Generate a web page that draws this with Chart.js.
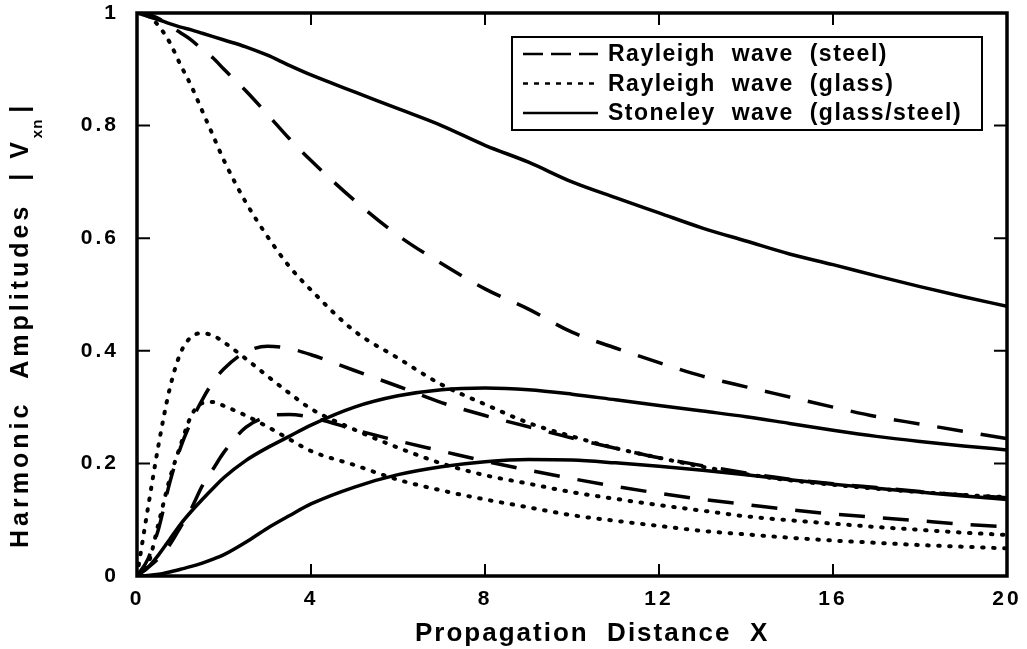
<!DOCTYPE html>
<html>
<head>
<meta charset="utf-8">
<script src="https://cdn.jsdelivr.net/npm/chart.js@4"></script>
<style>
  html, body { margin: 0; padding: 0; background: #fff; }
  #wrap { width: 1027px; height: 649px; }
</style>
</head>
<body>
<div id="wrap"><canvas id="chart" width="1027" height="649"></canvas></div>
<script>
// propagation distance X (shared by every curve)
const distance = [0, 0.25, 0.5, 0.75, 1, 1.25, 1.5, 1.75, 2, 2.5, 3, 3.5, 4,
    5, 6, 7, 8, 9, 10, 11, 12, 13, 14, 15, 16, 17, 18, 19, 20];

// Rayleigh wave (steel) - fundamental, 2nd and 3rd harmonic
const steelFund = [1, 0.998, 0.99, 0.977, 0.965, 0.952, 0.935, 0.92, 0.9, 0.862, 0.82, 0.777, 0.738,
    0.667, 0.605, 0.555, 0.51, 0.474, 0.433, 0.405, 0.379, 0.355, 0.336, 0.318, 0.3, 0.283, 0.27, 0.257, 0.244];
const steel2nd = [0, 0.03, 0.085, 0.165, 0.228, 0.275, 0.313, 0.345, 0.368, 0.398, 0.408, 0.404, 0.393,
    0.365, 0.337, 0.308, 0.285, 0.265, 0.245, 0.227, 0.21, 0.196, 0.183, 0.172, 0.164, 0.157, 0.15, 0.144, 0.139];
const steel3rd = [0, 0.015, 0.032, 0.055, 0.087, 0.12, 0.16, 0.19, 0.22, 0.264, 0.283, 0.287, 0.282,
    0.26, 0.24, 0.222, 0.204, 0.188, 0.173, 0.159, 0.147, 0.136, 0.127, 0.118, 0.11, 0.104, 0.098, 0.092, 0.087];

// Rayleigh wave (glass)
const glassFund = [1, 0.995, 0.977, 0.948, 0.908, 0.87, 0.826, 0.782, 0.738, 0.664, 0.603, 0.55, 0.508,
    0.435, 0.387, 0.34, 0.305, 0.272, 0.248, 0.227, 0.21, 0.194, 0.181, 0.17, 0.162, 0.155, 0.149, 0.144, 0.14];
const glass2nd = [0, 0.12, 0.235, 0.332, 0.396, 0.425, 0.431, 0.427, 0.415, 0.386, 0.355, 0.325, 0.297,
    0.26, 0.228, 0.2, 0.179, 0.164, 0.149, 0.137, 0.126, 0.116, 0.106, 0.099, 0.093, 0.087, 0.082, 0.077, 0.073];
const glass3rd = [0, 0.02, 0.095, 0.172, 0.232, 0.285, 0.307, 0.309, 0.302, 0.285, 0.265, 0.243, 0.222,
    0.197, 0.171, 0.152, 0.136, 0.122, 0.108, 0.098, 0.089, 0.08, 0.074, 0.068, 0.063, 0.059, 0.055, 0.052, 0.049];

// Stoneley wave (glass/steel)
const stoneFund = [1, 0.994, 0.988, 0.981, 0.975, 0.97, 0.964, 0.958, 0.952, 0.94, 0.925, 0.907, 0.89,
    0.86, 0.83, 0.8, 0.765, 0.735, 0.7, 0.672, 0.645, 0.618, 0.595, 0.572, 0.553, 0.533, 0.514, 0.496, 0.479];
const stone2nd = [0, 0.015, 0.038, 0.065, 0.092, 0.115, 0.136, 0.156, 0.175, 0.205, 0.228, 0.248, 0.268,
    0.3, 0.32, 0.331, 0.334, 0.331, 0.323, 0.313, 0.303, 0.293, 0.283, 0.271, 0.259, 0.248, 0.239, 0.231, 0.224];
const stone3rd = [0, 0.001, 0.003, 0.007, 0.012, 0.017, 0.023, 0.03, 0.038, 0.06, 0.085, 0.107, 0.128,
    0.158, 0.18, 0.194, 0.203, 0.207, 0.206, 0.201, 0.195, 0.188, 0.18, 0.171, 0.163, 0.156, 0.149, 0.142, 0.136];

const xTicks = [0, 4, 8, 12, 16, 20];
const yTicks = [0, 0.2, 0.4, 0.6, 0.8, 1];
const legendLabels = ['Rayleigh  wave  (steel)', 'Rayleigh  wave  (glass)', 'Stoneley  wave  (glass/steel)'];

const styles = {
    steel: { dash: [26, 18], cap: 'butt', width: 3.5 },
    glass: { dash: [1.5, 9.5], cap: 'round', width: 4 },
    stone: { dash: [], cap: 'butt', width: 3.5 }
};

function curve(values, kind) {
    return {
        data: distance.map((x, i) => ({ x: x, y: values[i] })),
        borderColor: '#000',
        borderWidth: styles[kind].width,
        borderDash: styles[kind].dash,
        borderCapStyle: styles[kind].cap,
        pointRadius: 0,
        fill: false,
        cubicInterpolationMode: 'monotone'
    };
}

const FONT = '"Liberation Sans", Arial, Helvetica, sans-serif';

// frame, inward ticks, legend and axis titles
const framePlugin = {
    id: 'frame',
    beforeDraw(chart) {
        chart.ctx.letterSpacing = '3px';
    },
    afterDatasetsDraw(chart) {
        const ctx = chart.ctx;
        const a = chart.chartArea;
        const xs = chart.scales.x, ys = chart.scales.y;
        ctx.save();
        ctx.strokeStyle = '#000';
        ctx.lineWidth = 3.5;
        ctx.setLineDash([]);
        ctx.strokeRect(a.left, a.top, a.right - a.left, a.bottom - a.top);

        ctx.lineWidth = 2;
        ctx.beginPath();
        xTicks.slice(1, -1).forEach(v => {
            const px = xs.getPixelForValue(v);
            ctx.moveTo(px, a.bottom); ctx.lineTo(px, a.bottom - 12);
            ctx.moveTo(px, a.top); ctx.lineTo(px, a.top + 12);
        });
        yTicks.slice(1, -1).forEach(v => {
            const py = ys.getPixelForValue(v);
            ctx.moveTo(a.left, py); ctx.lineTo(a.left + 13, py);
            ctx.moveTo(a.right, py); ctx.lineTo(a.right - 13, py);
        });
        ctx.stroke();

        // legend
        const lx = 512, ly = 37, lw = 470, lh = 93;
        ctx.fillStyle = '#fff';
        ctx.fillRect(lx, ly, lw, lh);
        ctx.lineWidth = 2;
        ctx.strokeRect(lx, ly, lw, lh);
        ctx.font = 'bold 23px ' + FONT;
        ctx.letterSpacing = '1.5px';
        ctx.textBaseline = 'middle';
        ctx.fillStyle = '#000';
        const kinds = ['steel', 'glass', 'stone'];
        legendLabels.forEach((label, i) => {
            const y = ly + 17 + i * 29.5;
            ctx.lineWidth = 2.5;
            ctx.setLineDash(kinds[i] === 'steel' ? [20, 8] : kinds[i] === 'glass' ? [5, 6] : []);
            ctx.lineCap = 'butt';
            ctx.beginPath();
            ctx.moveTo(lx + 11, y); ctx.lineTo(lx + 86, y);
            ctx.stroke();
            ctx.setLineDash([]);
            ctx.fillText(label, lx + 96, y + 1);
        });

        // x title
        ctx.font = 'bold 26px ' + FONT;
        ctx.letterSpacing = '2px';
        ctx.textBaseline = 'alphabetic';
        ctx.textAlign = 'left';
        ctx.fillText('Propagation  Distance  X', 415, 641);

        // y title with subscript
        ctx.translate(28, 548);
        ctx.rotate(-Math.PI / 2);
        ctx.font = 'bold 25px ' + FONT;
        ctx.letterSpacing = '4px';
        const main = 'Harmonic  Amplitudes  | V';
        ctx.fillText(main, 0, 0);
        let w = ctx.measureText(main).width;
        ctx.font = 'bold 15px ' + FONT;
        ctx.letterSpacing = '1px';
        ctx.fillText('xn', w, 14);
        w += ctx.measureText('xn').width + 6;
        ctx.font = 'bold 25px ' + FONT;
        ctx.fillText('|', w, 0);
        ctx.restore();
    }
};

new Chart(document.getElementById('chart'), {
    type: 'line',
    data: {
        datasets: [
            curve(stoneFund, 'stone'), curve(stone2nd, 'stone'), curve(stone3rd, 'stone'),
            curve(steelFund, 'steel'), curve(steel2nd, 'steel'), curve(steel3rd, 'steel'),
            curve(glassFund, 'glass'), curve(glass2nd, 'glass'), curve(glass3rd, 'glass')
        ]
    },
    options: {
        responsive: false,
        animation: false,
        layout: { padding: { top: 13, right: 20, left: 0, bottom: 0 } },
        plugins: { legend: { display: false }, tooltip: { enabled: false } },
        scales: {
            x: {
                type: 'linear', min: 0, max: 20,
                grid: { display: false, drawTicks: false },
                border: { display: false },
                afterFit(scale) {
                    scale.height = 73;
                    scale.paddingLeft = 0;
                    scale.paddingRight = 0;
                },
                afterBuildTicks(scale) { scale.ticks = xTicks.map(v => ({ value: v })); },
                ticks: {
                    color: '#000', padding: 11, maxRotation: 0, autoSkip: false,
                    font: { family: FONT, size: 21, weight: 'bold' }
                }
            },
            y: {
                type: 'linear', min: 0, max: 1,
                grid: { display: false, drawTicks: false },
                border: { display: false },
                afterFit(scale) {
                    scale.width = 137;
                    scale.paddingTop = 0;
                    scale.paddingBottom = 0;
                },
                afterBuildTicks(scale) { scale.ticks = yTicks.map(v => ({ value: v })); },
                ticks: {
                    color: '#000', padding: 18, autoSkip: false,
                    font: { family: FONT, size: 21, weight: 'bold' },
                    callback: v => String(v)
                }
            }
        }
    },
    plugins: [framePlugin]
});
</script>
</body>
</html>
